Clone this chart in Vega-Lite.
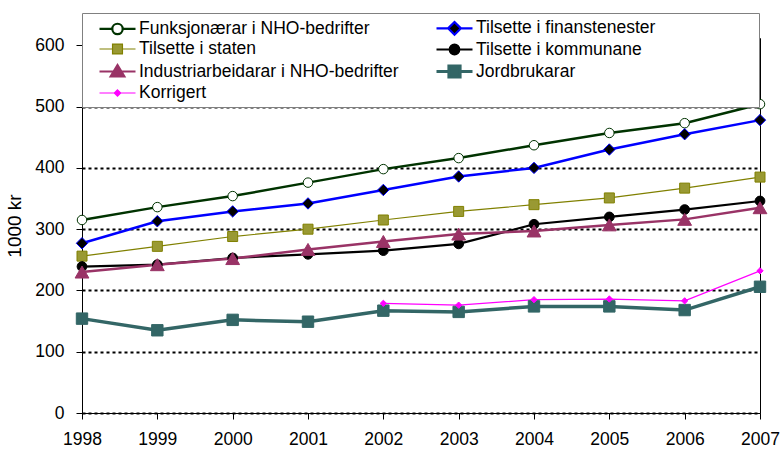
{
  "$schema": "https://vega.github.io/schema/vega-lite/v6.json",
  "width": 678,
  "height": 375,
  "autosize": "none",
  "padding": {"left": 82, "top": 38, "right": 21, "bottom": 39},
  "background": "white",
  "config": {
    "font": "Liberation Sans",
    "view": {"stroke": "#000000", "strokeWidth": 1},
    "axis": {"labelFont": "Liberation Sans", "titleFont": "Liberation Sans", "labelColor": "#000", "titleColor": "#000", "domainColor": "#000", "tickColor": "#000", "labelFontSize": 17.5, "titleFontSize": 19, "titleFontWeight": "normal"}
  },
  "data": {
    "values": [
      {"year": 1998, "series": "Funksjonærar i NHO-bedrifter", "value": 315},
      {"year": 1999, "series": "Funksjonærar i NHO-bedrifter", "value": 336},
      {"year": 2000, "series": "Funksjonærar i NHO-bedrifter", "value": 354},
      {"year": 2001, "series": "Funksjonærar i NHO-bedrifter", "value": 376},
      {"year": 2002, "series": "Funksjonærar i NHO-bedrifter", "value": 398},
      {"year": 2003, "series": "Funksjonærar i NHO-bedrifter", "value": 416},
      {"year": 2004, "series": "Funksjonærar i NHO-bedrifter", "value": 437},
      {"year": 2005, "series": "Funksjonærar i NHO-bedrifter", "value": 457},
      {"year": 2006, "series": "Funksjonærar i NHO-bedrifter", "value": 473},
      {"year": 2007, "series": "Funksjonærar i NHO-bedrifter", "value": 504},
      {"year": 1998, "series": "Tilsette i finanstenester", "value": 277},
      {"year": 1999, "series": "Tilsette i finanstenester", "value": 313},
      {"year": 2000, "series": "Tilsette i finanstenester", "value": 329},
      {"year": 2001, "series": "Tilsette i finanstenester", "value": 342},
      {"year": 2002, "series": "Tilsette i finanstenester", "value": 364},
      {"year": 2003, "series": "Tilsette i finanstenester", "value": 386},
      {"year": 2004, "series": "Tilsette i finanstenester", "value": 400},
      {"year": 2005, "series": "Tilsette i finanstenester", "value": 430},
      {"year": 2006, "series": "Tilsette i finanstenester", "value": 455},
      {"year": 2007, "series": "Tilsette i finanstenester", "value": 478},
      {"year": 1998, "series": "Tilsette i staten", "value": 256},
      {"year": 1999, "series": "Tilsette i staten", "value": 272},
      {"year": 2000, "series": "Tilsette i staten", "value": 288},
      {"year": 2001, "series": "Tilsette i staten", "value": 300},
      {"year": 2002, "series": "Tilsette i staten", "value": 315},
      {"year": 2003, "series": "Tilsette i staten", "value": 329},
      {"year": 2004, "series": "Tilsette i staten", "value": 340},
      {"year": 2005, "series": "Tilsette i staten", "value": 351},
      {"year": 2006, "series": "Tilsette i staten", "value": 367},
      {"year": 2007, "series": "Tilsette i staten", "value": 385},
      {"year": 1998, "series": "Tilsette i kommunane", "value": 239},
      {"year": 1999, "series": "Tilsette i kommunane", "value": 242},
      {"year": 2000, "series": "Tilsette i kommunane", "value": 253},
      {"year": 2001, "series": "Tilsette i kommunane", "value": 259},
      {"year": 2002, "series": "Tilsette i kommunane", "value": 265},
      {"year": 2003, "series": "Tilsette i kommunane", "value": 276},
      {"year": 2004, "series": "Tilsette i kommunane", "value": 308},
      {"year": 2005, "series": "Tilsette i kommunane", "value": 320},
      {"year": 2006, "series": "Tilsette i kommunane", "value": 332},
      {"year": 2007, "series": "Tilsette i kommunane", "value": 346},
      {"year": 1998, "series": "Industriarbeidarar i NHO-bedrifter", "value": 230},
      {"year": 1999, "series": "Industriarbeidarar i NHO-bedrifter", "value": 242},
      {"year": 2000, "series": "Industriarbeidarar i NHO-bedrifter", "value": 252},
      {"year": 2001, "series": "Industriarbeidarar i NHO-bedrifter", "value": 267},
      {"year": 2002, "series": "Industriarbeidarar i NHO-bedrifter", "value": 280},
      {"year": 2003, "series": "Industriarbeidarar i NHO-bedrifter", "value": 292},
      {"year": 2004, "series": "Industriarbeidarar i NHO-bedrifter", "value": 297},
      {"year": 2005, "series": "Industriarbeidarar i NHO-bedrifter", "value": 307},
      {"year": 2006, "series": "Industriarbeidarar i NHO-bedrifter", "value": 316},
      {"year": 2007, "series": "Industriarbeidarar i NHO-bedrifter", "value": 335},
      {"year": 1998, "series": "Jordbrukarar", "value": 154},
      {"year": 1999, "series": "Jordbrukarar", "value": 135},
      {"year": 2000, "series": "Jordbrukarar", "value": 152},
      {"year": 2001, "series": "Jordbrukarar", "value": 149},
      {"year": 2002, "series": "Jordbrukarar", "value": 167},
      {"year": 2003, "series": "Jordbrukarar", "value": 165},
      {"year": 2004, "series": "Jordbrukarar", "value": 174},
      {"year": 2005, "series": "Jordbrukarar", "value": 174},
      {"year": 2006, "series": "Jordbrukarar", "value": 168},
      {"year": 2007, "series": "Jordbrukarar", "value": 206},
      {"year": 2002, "series": "Korrigert", "value": 179},
      {"year": 2003, "series": "Korrigert", "value": 176},
      {"year": 2004, "series": "Korrigert", "value": 185},
      {"year": 2005, "series": "Korrigert", "value": 186},
      {"year": 2006, "series": "Korrigert", "value": 183},
      {"year": 2007, "series": "Korrigert", "value": 232}
    ]
  },
  "encoding": {
    "x": {
      "field": "year", "type": "quantitative",
      "scale": {"domain": [1998, 2007], "nice": false, "zero": false},
      "axis": {"title": null, "values": [1998, 1999, 2000, 2001, 2002, 2003, 2004, 2005, 2006, 2007], "format": "d", "labelFlush": false, "grid": false, "tickSize": 6, "labelPadding": 11, "labelOverlap": false}
    },
    "y": {
      "field": "value", "type": "quantitative",
      "scale": {"domain": [0, 612], "nice": false},
      "axis": {"title": "1000 kr", "values": [0, 100, 200, 300, 400, 500, 600], "tickSize": 6, "labelPadding": 12, "titlePadding": 10, "grid": true, "gridColor": "#000", "gridDash": [3, 3], "gridWidth": 2}
    }
  },
  "resolve": {"scale": {"shape": "independent", "fill": "independent", "stroke": "independent", "size": "independent", "strokeWidth": "independent"}},
  "layer": [
    {
      "mark": {"type": "line"},
      "encoding": {
        "stroke": {
          "field": "series", "type": "nominal",
          "scale": {
            "domain": ["Funksjonærar i NHO-bedrifter", "Tilsette i finanstenester", "Tilsette i staten", "Tilsette i kommunane", "Industriarbeidarar i NHO-bedrifter", "Jordbrukarar", "Korrigert"],
            "range": ["#003300", "#0000FF", "#808000", "#000000", "#993366", "#336666", "#FF00FF"]
          },
          "legend": null
        },
        "strokeWidth": {
          "field": "series", "type": "nominal",
          "scale": {
            "type": "ordinal",
            "domain": ["Funksjonærar i NHO-bedrifter", "Tilsette i finanstenester", "Tilsette i staten", "Tilsette i kommunane", "Industriarbeidarar i NHO-bedrifter", "Jordbrukarar", "Korrigert"],
            "range": [2.5, 2.5, 1.2, 2.2, 2.5, 3.5, 1.2]
          },
          "legend": null
        }
      }
    },
    {
      "mark": {"type": "point", "filled": true, "opacity": 1, "strokeWidth": 1},
      "encoding": {
        "shape": {
          "field": "series", "type": "nominal",
          "scale": {
            "domain": ["Funksjonærar i NHO-bedrifter", "Tilsette i finanstenester", "Tilsette i staten", "Tilsette i kommunane", "Industriarbeidarar i NHO-bedrifter", "Jordbrukarar", "Korrigert"],
            "range": ["circle", "diamond", "square", "circle", "triangle-up", "square", "diamond"]
          },
          "legend": null
        },
        "size": {
          "field": "series", "type": "nominal",
          "scale": {
            "type": "ordinal",
            "domain": ["Funksjonærar i NHO-bedrifter", "Tilsette i finanstenester", "Tilsette i staten", "Tilsette i kommunane", "Industriarbeidarar i NHO-bedrifter", "Jordbrukarar", "Korrigert"],
            "range": [90, 130, 100, 95, 190, 130, 40]
          },
          "legend": null
        },
        "stroke": {
          "field": "series", "type": "nominal",
          "scale": {
            "domain": ["Funksjonærar i NHO-bedrifter", "Tilsette i finanstenester", "Tilsette i staten", "Tilsette i kommunane", "Industriarbeidarar i NHO-bedrifter", "Jordbrukarar", "Korrigert"],
            "range": ["#003300", "#0000FF", "#808000", "#000000", "#993366", "#336666", "#FF00FF"]
          },
          "legend": null
        },
        "fill": {
          "field": "series", "type": "nominal",
          "scale": {
            "domain": ["Funksjonærar i NHO-bedrifter", "Tilsette i finanstenester", "Tilsette i staten", "Tilsette i kommunane", "Industriarbeidarar i NHO-bedrifter", "Jordbrukarar", "Korrigert"],
            "range": ["#FFFFFF", "#000000", "#999933", "#000000", "#993366", "#336666", "#FF00FF"]
          },
          "legend": null
        }
      }
    },
    {
      "transform": [{"filter": "false"}],
      "mark": {"type": "point", "filled": true, "opacity": 1},
      "encoding": {
        "shape": {
          "field": "series", "type": "nominal",
          "scale": {
            "domain": ["Funksjonærar i NHO-bedrifter", "Tilsette i finanstenester", "Tilsette i staten", "Tilsette i kommunane", "Industriarbeidarar i NHO-bedrifter", "Jordbrukarar", "Korrigert"],
            "range": [
              "M-2.6,0M-1,0H0.6M1.9,0H3.5M0.6,0A0.65,0.65 0 1,0 1.9,0A0.65,0.65 0 1,0 0.6,0ZM37.9,0",
              "M-2.6,0M-1,0H0.45M2.05,0H3.5M1.25,-0.8L2.05,0L1.25,0.8L0.45,0ZM37.9,0",
              "M-2.6,0M-1,0H0.63M1.87,0H3.5M0.63,-0.62H1.87V0.62H0.63ZM37.9,0",
              "M-2.6,0M-1,0H0.65M1.85,0H3.5M0.65,0A0.6,0.6 0 1,0 1.85,0A0.6,0.6 0 1,0 0.65,0ZM37.9,0",
              "M-2.6,0M-1,0H0.77M1.73,0H3.5M1.25,-0.8L2.1,0.6H0.4ZM37.9,0",
              "M-2.6,0M-1,0H0.55M1.95,0H3.5M0.55,-0.7H1.95V0.7H0.55ZM37.9,0",
              "M-2.6,0M-1,0H0.85M1.65,0H3.5M1.25,-0.4L1.65,0L1.25,0.4L0.85,0ZM37.9,0"
            ]
          }
        },
        "stroke": {
          "field": "series", "type": "nominal",
          "scale": {
            "domain": ["Funksjonærar i NHO-bedrifter", "Tilsette i finanstenester", "Tilsette i staten", "Tilsette i kommunane", "Industriarbeidarar i NHO-bedrifter", "Jordbrukarar", "Korrigert"],
            "range": ["#003300", "#0000FF", "#808000", "#000000", "#993366", "#336666", "#FF00FF"]
          }
        },
        "strokeWidth": {
          "field": "series", "type": "nominal",
          "scale": {
            "type": "ordinal",
            "domain": ["Funksjonærar i NHO-bedrifter", "Tilsette i finanstenester", "Tilsette i staten", "Tilsette i kommunane", "Industriarbeidarar i NHO-bedrifter", "Jordbrukarar", "Korrigert"],
            "range": [2.2, 2.2, 1.2, 2.2, 2.2, 3, 1.2]
          }
        },
        "fill": {
          "field": "series", "type": "nominal",
          "scale": {
            "domain": ["Funksjonærar i NHO-bedrifter", "Tilsette i finanstenester", "Tilsette i staten", "Tilsette i kommunane", "Industriarbeidarar i NHO-bedrifter", "Jordbrukarar", "Korrigert"],
            "range": ["#FFFFFF", "#000000", "#999933", "#000000", "#993366", "#336666", "#FF00FF"]
          },
          "legend": {
            "title": null,
            "orient": "none",
            "direction": "horizontal",
            "legendX": 0,
            "legendY": -25,
            "columns": 2,
            "gridAlign": "all",
            "columnPadding": 0,
            "rowPadding": -13,
            "padding": 5,
            "fillColor": "#FFFFFF",
            "strokeColor": "#808080",
            "labelFont": "Liberation Sans",
            "labelFontSize": 17.5,
            "labelColor": "#000000",
            "labelLimit": 500,
            "labelOffset": 22,
            "symbolOffset": 11,
            "symbolSize": 256,
            "symbolOpacity": 1
          }
        }
      }
    }
  ]
}
